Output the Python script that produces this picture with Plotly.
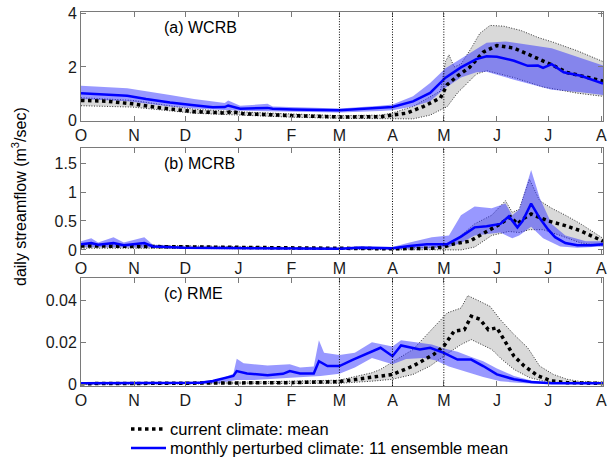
import plotly.graph_objects as go
from plotly.subplots import make_subplots

# ---------------- data (day of water year, starting 1 Oct) ----------------
month_days = [0, 31, 61, 92, 123, 151, 182, 212, 243, 273, 304]
month_labels = ["O", "N", "D", "J", "F", "M", "A", "M", "J", "J", "A"]
vlines_days = [151, 182, 212]

# (a) WCRB
a_cur_x = [0, 15, 30, 45, 66, 84, 88, 95, 124, 151, 175, 182, 190, 200, 210, 214, 220, 227, 235, 243, 253, 261, 270, 276, 284, 296, 305]
a_cur_y = [0.75, 0.72, 0.62, 0.48, 0.33, 0.28, 0.33, 0.25, 0.18, 0.13, 0.14, 0.2, 0.27, 0.52, 0.84, 1.34, 1.66, 1.98, 2.55, 2.8, 2.7, 2.48, 2.23, 2.05, 1.79, 1.6, 1.47]
a_cur_hi_x = [0, 30, 66, 90, 124, 151, 175, 182, 194, 204, 210, 213, 215, 218, 222, 228, 233, 239, 247, 257, 267, 276, 290, 305]
a_cur_hi_y = [0.85, 0.75, 0.42, 0.33, 0.24, 0.18, 0.2, 0.28, 0.52, 0.87, 1.1, 2.2, 2.45, 2.0, 2.1, 2.7, 3.25, 3.55, 3.52, 3.36, 3.1, 2.92, 2.6, 2.2]
a_cur_lo_x = [0, 30, 66, 90, 124, 151, 175, 194, 204, 214, 220, 226, 231, 237, 253, 270, 290, 305]
a_cur_lo_y = [0.55, 0.5, 0.27, 0.2, 0.12, 0.08, 0.08, 0.06, 0.2, 0.52, 1.03, 1.41, 1.73, 1.86, 1.6, 1.25, 1.02, 0.9]
a_pert_x = [0, 13, 27, 38, 52, 66, 77, 84, 86, 93, 109, 112, 124, 151, 175, 182, 194, 204, 213, 222, 231, 237, 243, 253, 261, 267, 270, 275, 282, 292, 305]
a_pert_y = [1.02, 0.97, 0.92, 0.8, 0.67, 0.57, 0.49, 0.5, 0.56, 0.44, 0.47, 0.44, 0.41, 0.38, 0.46, 0.5, 0.71, 1.03, 1.6, 1.98, 2.29, 2.4, 2.38, 2.23, 2.04, 2.05, 1.96, 2.1, 1.8, 1.67, 1.38]
a_pert_hi_x = [0, 27, 52, 66, 84, 86, 93, 109, 112, 124, 151, 175, 182, 194, 204, 213, 222, 231, 237, 248, 260, 275, 282, 305]
a_pert_hi_y = [1.3, 1.2, 0.95, 0.8, 0.65, 0.75, 0.55, 0.62, 0.52, 0.5, 0.45, 0.55, 0.6, 0.9, 1.4, 1.95, 2.3, 2.65, 2.9, 2.95, 2.85, 2.7, 2.55, 2.05]
a_pert_lo_x = [0, 27, 52, 66, 93, 124, 151, 175, 182, 194, 204, 213, 222, 231, 237, 253, 270, 275, 292, 305]
a_pert_lo_y = [0.8, 0.72, 0.52, 0.45, 0.36, 0.32, 0.3, 0.35, 0.38, 0.52, 0.72, 1.22, 1.6, 1.8, 1.82, 1.52, 1.25, 1.15, 1.05, 0.95]

# (b) MCRB
b_cur_x = [0, 40, 100, 151, 182, 205, 212, 217, 227, 236, 245, 251, 255, 259, 263, 273, 283, 292, 302, 305]
b_cur_y = [0.07, 0.06, 0.03, 0.02, 0.02, 0.03, 0.05, 0.1, 0.15, 0.3, 0.45, 0.57, 0.45, 0.55, 0.62, 0.5, 0.42, 0.33, 0.2, 0.15]
b_cur_hi_x = [0, 40, 151, 182, 205, 212, 220, 230, 240, 248, 252, 256, 262, 268, 275, 283, 292, 305]
b_cur_hi_y = [0.1, 0.08, 0.03, 0.03, 0.05, 0.08, 0.2, 0.45, 0.6, 0.85, 0.65, 0.7, 1.22, 0.85, 0.72, 0.6, 0.45, 0.2]
b_cur_lo_x = [0, 40, 151, 182, 205, 215, 222, 230, 240, 250, 256, 262, 270, 280, 292, 305]
b_cur_lo_y = [0.03, 0.03, 0.01, 0.01, 0.01, 0.01, 0.0, 0.05, 0.25, 0.32, 0.3, 0.35, 0.35, 0.25, 0.12, 0.07]
b_pert_x = [0, 6, 10, 19, 25, 37, 42, 60, 100, 151, 163, 182, 192, 202, 214, 222, 230, 237, 245, 250, 255, 258, 263, 268, 273, 277, 283, 290, 298, 305]
b_pert_y = [0.1, 0.12, 0.09, 0.12, 0.08, 0.12, 0.06, 0.04, 0.03, 0.02, 0.04, 0.03, 0.07, 0.1, 0.1, 0.23, 0.39, 0.41, 0.45, 0.58, 0.39, 0.5, 0.8, 0.55, 0.35, 0.22, 0.12, 0.08, 0.08, 0.1]
b_pert_hi_x = [0, 6, 10, 19, 25, 37, 42, 60, 151, 163, 182, 192, 205, 215, 222, 230, 240, 248, 252, 256, 263, 268, 275, 283, 295, 305]
b_pert_hi_y = [0.15, 0.2, 0.13, 0.22, 0.13, 0.22, 0.09, 0.06, 0.04, 0.07, 0.05, 0.13, 0.22, 0.25, 0.6, 0.75, 0.72, 0.8, 0.6, 0.7, 1.38, 0.9, 0.45, 0.25, 0.15, 0.15]
b_pert_lo_x = [0, 40, 151, 182, 205, 215, 222, 230, 245, 252, 256, 263, 270, 280, 290, 305]
b_pert_lo_y = [0.05, 0.04, 0.01, 0.01, 0.03, 0.05, 0.12, 0.25, 0.3, 0.2, 0.25, 0.4, 0.2, 0.06, 0.04, 0.06]

# (c) RME
c_cur_x = [0, 92, 123, 151, 170, 182, 194, 206, 212, 218, 224, 228, 233, 238, 243, 248, 253, 259, 267, 275, 284, 305]
c_cur_y = [0.0003, 0.0005, 0.0008, 0.0013, 0.0032, 0.0047, 0.0087, 0.0142, 0.0182, 0.0253, 0.026, 0.0324, 0.031, 0.026, 0.0269, 0.0198, 0.0134, 0.0087, 0.004, 0.0016, 0.0008, 0.0004]
c_cur_hi_x = [0, 92, 151, 170, 175, 194, 204, 214, 222, 226, 231, 239, 245, 253, 261, 268, 276, 284, 292, 305]
c_cur_hi_y = [0.0007, 0.001, 0.002, 0.0055, 0.0071, 0.0166, 0.0253, 0.034, 0.0363, 0.0422, 0.0403, 0.0371, 0.0308, 0.0237, 0.0174, 0.0087, 0.0047, 0.0024, 0.0013, 0.001]
c_cur_lo_x = [0, 92, 151, 170, 182, 194, 204, 212, 222, 228, 234, 240, 246, 253, 262, 270, 280, 305]
c_cur_lo_y = [0.0, 0.0002, 0.0005, 0.0015, 0.0024, 0.0047, 0.0087, 0.0134, 0.0189, 0.0213, 0.0189, 0.0166, 0.0118, 0.0071, 0.0032, 0.0016, 0.0008, 0.0002]
c_pert_x = [0, 60, 70, 77, 85, 89, 91, 97, 109, 118, 122, 128, 136, 138, 139, 144, 151, 159, 170, 175, 182, 187, 198, 204, 212, 220, 228, 235, 243, 253, 263, 275, 305]
c_pert_y = [0.0005, 0.0005, 0.0008, 0.0016, 0.003, 0.004, 0.0063, 0.0052, 0.0043, 0.005, 0.0063, 0.0052, 0.0052, 0.009, 0.011, 0.0087, 0.0087, 0.0118, 0.0158, 0.0174, 0.0134, 0.0185, 0.0166, 0.0174, 0.015, 0.0118, 0.0118, 0.0087, 0.0047, 0.0024, 0.0011, 0.0005, 0.0005]
c_pert_hi_x = [0, 60, 80, 89, 91, 95, 109, 122, 128, 136, 139, 142, 151, 160, 170, 182, 187, 195, 205, 212, 220, 228, 235, 243, 253, 263, 275, 305]
c_pert_hi_y = [0.001, 0.001, 0.002, 0.005, 0.0122, 0.01, 0.009, 0.0095, 0.008, 0.0085, 0.021, 0.015, 0.014, 0.015, 0.02, 0.018, 0.021, 0.02, 0.019, 0.017, 0.0155, 0.013, 0.011, 0.0075, 0.004, 0.0018, 0.0008, 0.0008]
c_pert_lo_x = [0, 80, 91, 100, 120, 140, 151, 160, 170, 182, 190, 200, 207, 215, 225, 235, 245, 255, 265, 305]
c_pert_lo_y = [0.0002, 0.0005, 0.002, 0.002, 0.003, 0.004, 0.005, 0.008, 0.0125, 0.0095, 0.012, 0.0125, 0.0115, 0.0085, 0.006, 0.0035, 0.0015, 0.0007, 0.0003, 0.0002]

panel_titles = ["(a) WCRB", "(b) MCRB", "(c) RME"]
legend_names = ["current climate: mean", "monthly perturbed climate: 11 ensemble mean"]

# ---------------- figure ----------------
FONT = "Arial, Liberation Sans, Helvetica, sans-serif"
FS = 16
GRAY_FILL = "#d9d9d9"
BLUE_FILL = "rgba(50,50,255,0.5)"
BLUE = "#0000ff"
FINE_DOT = "1px,1.6px"

W, H = 612, 461
ML, MR, MT, MB = 81, 9, 12, 75
PW, PH = W - ML - MR, H - MT - MB


def px_x(px):
    return (px - ML) / PW


def px_y(py):
    return (H - MB - py) / PH


fig = make_subplots(rows=3, cols=1, shared_xaxes=False, vertical_spacing=0.05)

panels = [
    (a_cur_x, a_cur_y, a_cur_hi_x, a_cur_hi_y, a_cur_lo_x, a_cur_lo_y,
     a_pert_x, a_pert_y, a_pert_hi_x, a_pert_hi_y, a_pert_lo_x, a_pert_lo_y),
    (b_cur_x, b_cur_y, b_cur_hi_x, b_cur_hi_y, b_cur_lo_x, b_cur_lo_y,
     b_pert_x, b_pert_y, b_pert_hi_x, b_pert_hi_y, b_pert_lo_x, b_pert_lo_y),
    (c_cur_x, c_cur_y, c_cur_hi_x, c_cur_hi_y, c_cur_lo_x, c_cur_lo_y,
     c_pert_x, c_pert_y, c_pert_hi_x, c_pert_hi_y, c_pert_lo_x, c_pert_lo_y),
]

for i, p in enumerate(panels):
    r = i + 1
    (cx, cy, chx, chy, clx, cly, px, py, phx, phy, plx, ply) = p
    edge = dict(color="black", width=0.8, dash=FINE_DOT)
    fig.add_trace(go.Scatter(x=clx, y=cly, mode="lines", line=edge,
                             showlegend=False, hoverinfo="skip"), row=r, col=1)
    fig.add_trace(go.Scatter(x=chx, y=chy, mode="lines", line=edge, fill="tonexty",
                             fillcolor=GRAY_FILL, showlegend=False, hoverinfo="skip"), row=r, col=1)
    fig.add_trace(go.Scatter(x=plx, y=ply, mode="lines", line=dict(width=0, color=BLUE_FILL),
                             showlegend=False, hoverinfo="skip"), row=r, col=1)
    fig.add_trace(go.Scatter(x=phx, y=phy, mode="lines", line=dict(width=0, color=BLUE_FILL),
                             fill="tonexty", fillcolor=BLUE_FILL, showlegend=False,
                             hoverinfo="skip"), row=r, col=1)
    fig.add_trace(go.Scatter(x=cx, y=cy, mode="lines", name=legend_names[0],
                             line=dict(color="black", width=3.5, dash="dot"),
                             showlegend=False), row=r, col=1)
    fig.add_trace(go.Scatter(x=px, y=py, mode="lines", name=legend_names[1],
                             line=dict(color=BLUE, width=2.5),
                             showlegend=False), row=r, col=1)

domains = [(px_y(121), 1.0), (px_y(254), px_y(148)), (0.0, px_y(278))]
yranges = [(-0.02, 4.05), (-0.07, 1.76), (-0.0008, 0.0506)]
ytickvals = [[0, 2, 4], [0, 0.5, 1, 1.5], [0, 0.02, 0.04]]
yticktext = [["0", "2", "4"], ["0", "0.5", "1", "1.5"], ["0", "0.02", "0.04"]]

axis_common = dict(showline=True, linecolor="#7a7a7a", linewidth=1, mirror="ticks",
                   ticks="inside", ticklen=5, tickcolor="#7a7a7a", showgrid=False,
                   zeroline=False, tickfont=dict(family=FONT, size=FS, color="#1a1a1a"))

for i in range(3):
    xa = "xaxis" if i == 0 else f"xaxis{i+1}"
    ya = "yaxis" if i == 0 else f"yaxis{i+1}"
    fig.layout[xa].update(range=[0, 305], tickmode="array", tickvals=month_days,
                          ticktext=month_labels, ticklabeloverflow="allow", **axis_common)
    fig.layout[ya].update(domain=list(domains[i]), range=list(yranges[i]), tickmode="array",
                          tickvals=ytickvals[i], ticktext=yticktext[i], **axis_common)
    xref = "x" if i == 0 else f"x{i+1}"
    yref = "y domain" if i == 0 else f"y{i+1} domain"
    for d in vlines_days:
        fig.add_shape(type="line", x0=d, x1=d, y0=0, y1=1, xref=xref, yref=yref,
                      line=dict(color="black", width=1, dash=FINE_DOT))
    fig.add_annotation(text=panel_titles[i], x=px_x(162), xref="paper",
                       y=domains[i][1] - 15 / PH, yref="paper", xanchor="left",
                       yanchor="middle", showarrow=False,
                       font=dict(family=FONT, size=FS, color="black"))

fig.add_annotation(text="daily streamflow (m<sup>3</sup>/sec)", textangle=-90,
                   x=px_x(19), xref="paper", y=px_y(197), yref="paper",
                   xanchor="center", yanchor="middle", showarrow=False,
                   font=dict(family=FONT, size=FS, color="black"))

# legend drawn manually below the plots
legend_rows = [(429, dict(color="black", width=3.5, dash="dot")),
               (448, dict(color=BLUE, width=2.5))]
for (row_y, ln), name in zip(legend_rows, legend_names):
    fig.add_shape(type="line", xref="paper", yref="paper",
                  x0=px_x(131), x1=px_x(166), y0=px_y(row_y), y1=px_y(row_y), line=ln)
    fig.add_annotation(text=name, x=px_x(168), xref="paper", y=px_y(row_y), yref="paper",
                       xanchor="left", yanchor="middle", showarrow=False,
                       font=dict(family=FONT, size=16.5, color="black"))

fig.update_layout(
    width=W, height=H,
    margin=dict(l=ML, r=MR, t=MT, b=MB, autoexpand=False),
    paper_bgcolor="white", plot_bgcolor="white",
    showlegend=False,
)

fig.write_html("out.html", config={"displayModeBar": False},
               post_script="document.body.style.margin='0';document.body.style.overflow='hidden';")
